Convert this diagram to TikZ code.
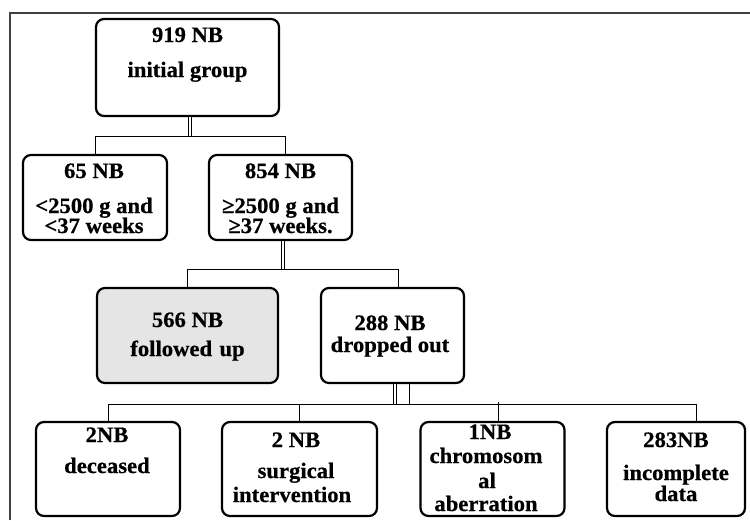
\documentclass[tikz,border=0pt]{standalone}
\usepackage{fontspec}
\setmainfont[FakeStretch=1.03,FakeBold=0.6]{Liberation Serif}
\usetikzlibrary{calc}
\begin{document}
\begin{tikzpicture}[x=1pt,y=-1pt,
  box/.style={draw, line width=2.2pt, rounded corners=8pt, inner sep=0pt},
  txt/.style={anchor=base, inner sep=0pt, font=\fontsize{22}{23}\selectfont\bfseries},
  conn/.style={line width=1pt},
  dbl/.style={double, double distance=2.4pt, line width=0.8pt},
  frame/.style={line width=1.3pt, draw=black!75}]
\useasboundingbox (0,0) rectangle (750,520);
% frame
\draw[frame] (10,520) -- (10,13) -- (750,13);
% boxes
\node[box, minimum width=183pt, minimum height=97pt] (top) at (187.5,67.5) {};
\node[box, minimum width=144pt, minimum height=85pt] (b65) at (95,197.5) {};
\node[box, minimum width=143pt, minimum height=85pt] (b854) at (280.5,197.5) {};
\node[box, minimum width=181pt, minimum height=95pt, fill=black!10] (b566) at (187.5,335.5) {};
\node[box, minimum width=143pt, minimum height=95pt] (b288) at (392.5,335.5) {};
\node[box, minimum width=144pt, minimum height=94pt] (d1) at (108,469) {};
\node[box, minimum width=155pt, minimum height=94pt] (d2) at (299.5,469) {};
\node[box, minimum width=144pt, minimum height=94pt] (d3) at (492.5,469) {};
\node[box, minimum width=138pt, minimum height=94pt] (d4) at (676,469) {};
% texts
\node[txt] (t1a) at (187.5,42) {919 NB};
\node[txt] (t1b) at (187.5,77) {initial group};
\node[txt] (t2a) at (94,178) {65 NB};
\node[txt] (t2b) at (94,213) {<2500 g and};
\node[txt] (t2c) at (94,233) {<37 weeks};
\node[txt] (t3a) at (280.5,178) {854 NB};
\node[txt] (t3b) at (280.5,213) {≥2500 g and};
\node[txt] (t3c) at (280.5,233) {≥37 weeks.};
\node[txt] (t4a) at (187.5,327) {566 NB};
\node[txt] (t4b) at (187.5,356) {followed\,\,up};
\node[txt] (t5a) at (390,330) {288 NB};
\node[txt] (t5b) at (390,352) {dropped out};
\node[txt] (t6a) at (107,442) {2NB};
\node[txt] (t6b) at (107,473) {deceased};
\node[txt] (t7a) at (296,447) {2 NB};
\node[txt] (t7b) at (296,478) {surgical};
\node[txt] (t7c) at (292,502) {intervention};
\node[txt] (t8a) at (490,439) {1NB};
\node[txt] (t8b) at (486,463) {chromosom};
\node[txt] (t8c) at (487,488) {al};
\node[txt] (t8d) at (486,511) {aberration};
\node[txt] (t9a) at (676,447) {283NB};
\node[txt] (t9b) at (676,480) {incomplete};
\node[txt] (t9c) at (676,501) {data};
% connectors
\coordinate (j1) at ($(top.south)+(2.5,19)$);
\draw[dbl] ($(top.south)+(2.5,0)$) -- (j1);
\draw[conn] (b65.north) |- (j1) -| ($(b854.north)+(4.5,0)$);
\coordinate (j2) at ($(b854.south)+(2.5,28)$);
\draw[dbl] ($(b854.south)+(2.5,0)$) -- (j2);
\draw[conn] (b566.north) |- (j2) -| ($(b288.north)+(5.5,0)$);
\coordinate (j3) at ($(b288.south)+(2.5,20)$);
\draw[dbl] ($(b288.south)+(2.5,0)$) -- (j3);
\draw[conn] ($(b288.south)+(16.5,0)$) -- ++(0,20);
\draw[conn] (d1.north) |- (j3) -| ($(d4.north)+(20,0)$);
\draw[conn] (d2.north) -- (d2.north |- j3);
\draw[conn] ($(d3.north)+(5.5,0)$) -- ($(d3.north)+(5.5,-19)$);
\end{tikzpicture}
\end{document}
